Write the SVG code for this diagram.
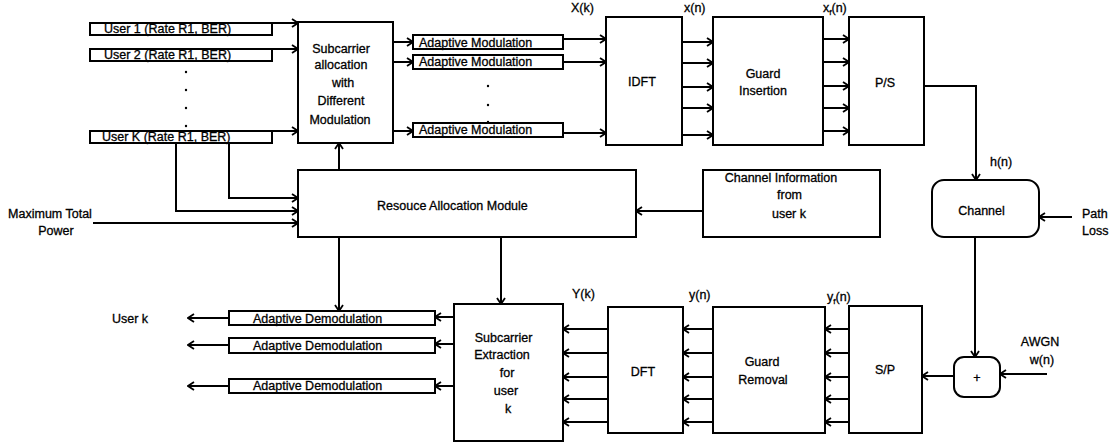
<svg xmlns="http://www.w3.org/2000/svg" width="1112" height="447" viewBox="0 0 1112 447">
<style>
.b{fill:#fff;stroke:#000;stroke-width:2}
.t{font-family:"Liberation Sans",Arial,sans-serif;font-size:12.5px;fill:#000;stroke:#000;stroke-width:0.3}
.m{text-anchor:middle}
.w{fill:none;stroke:#000;stroke-width:2;marker-end:url(#a)}
.d{fill:#000}
</style>
<defs>
<marker id="a" viewBox="0 0 8 10" markerWidth="8" markerHeight="10" refX="7" refY="5" orient="auto" markerUnits="userSpaceOnUse">
<path d="M1,1 L7,5 L1,9" fill="none" stroke="#000" stroke-width="1.8"/>
</marker>
</defs>
<rect width="1112" height="447" fill="#fff"/>
<g id="connectors">
<path class="w" d="M272,23 H298"/>
<path class="w" d="M272,49 H298"/>
<path class="w" d="M272,131 H298"/>
<path class="w" d="M393,42 H413"/>
<path class="w" d="M393,62 H413"/>
<path class="w" d="M393,131 H413"/>
<path class="w" d="M563,39 H606"/>
<path class="w" d="M563,62 H606"/>
<path class="w" d="M563,133 H606"/>
<path class="w" d="M682,42 H713"/>
<path class="w" d="M682,63 H713"/>
<path class="w" d="M682,87 H713"/>
<path class="w" d="M682,108 H713"/>
<path class="w" d="M682,135 H713"/>
<path class="w" d="M823,39 H849"/>
<path class="w" d="M823,62 H849"/>
<path class="w" d="M823,86 H849"/>
<path class="w" d="M823,108 H849"/>
<path class="w" d="M823,131 H849"/>
<path class="w" d="M924,86 H976 V180"/>
<path class="w" d="M1072,217 H1039"/>
<path class="w" d="M975,237 V357"/>
<path class="w" d="M1047,374 H1000"/>
<path class="w" d="M954,376 H922"/>
<path class="w" d="M849,329 H825"/>
<path class="w" d="M849,353 H825"/>
<path class="w" d="M849,377 H825"/>
<path class="w" d="M849,399 H825"/>
<path class="w" d="M849,422 H825"/>
<path class="w" d="M713,329 H683"/>
<path class="w" d="M713,353 H683"/>
<path class="w" d="M713,377 H683"/>
<path class="w" d="M713,399 H683"/>
<path class="w" d="M713,422 H683"/>
<path class="w" d="M608,329 H563"/>
<path class="w" d="M608,353 H563"/>
<path class="w" d="M608,377 H563"/>
<path class="w" d="M608,399 H563"/>
<path class="w" d="M608,422 H563"/>
<path class="w" d="M454,317 H435"/>
<path class="w" d="M454,344 H435"/>
<path class="w" d="M454,386 H435"/>
<path class="w" d="M229,318 H188"/>
<path class="w" d="M229,345 H188"/>
<path class="w" d="M229,386 H188"/>
<path class="w" d="M339,170 V143"/>
<path class="w" d="M339,237 V311"/>
<path class="w" d="M501,237 V304"/>
<path class="w" d="M703,211 H636"/>
<path class="w" d="M229,143 V198 H298"/>
<path class="w" d="M176,143 V211 H298"/>
<path class="w" d="M93,223 H298"/>
</g>
<g id="user1"><rect class="b" x="90" y="23" width="182" height="12"/><text class="t" x="104" y="33">User 1 (Rate R1, BER)</text></g>
<g id="user2"><rect class="b" x="90" y="49" width="182" height="12"/><text class="t" x="104" y="59">User 2 (Rate R1, BER)</text></g>
<g id="userdots"><circle class="d" cx="186" cy="72" r="1.2"/><circle class="d" cx="186" cy="90" r="1.2"/><circle class="d" cx="186" cy="108" r="1.2"/><circle class="d" cx="186" cy="126" r="1.2"/></g>
<g id="userK"><rect class="b" x="90" y="131" width="182" height="12"/><text class="t" x="102" y="141">User K (Rate R1, BER)</text></g>
<g id="suballoc"><rect class="b" x="298" y="22" width="95" height="121"/>
<text class="t m" x="341" y="53" font-size="13">Subcarrier</text>
<text class="t m" x="341" y="69" font-size="13">allocation</text>
<text class="t m" x="343" y="87" font-size="13">with</text>
<text class="t m" x="341" y="105" font-size="13">Different</text>
<text class="t m" x="340" y="124" font-size="13">Modulation</text></g>
<g id="am1"><rect class="b" x="413" y="35" width="150" height="14"/><text class="t" x="419" y="46.5">Adaptive Modulation</text></g>
<g id="am2"><rect class="b" x="413" y="55" width="150" height="14"/><text class="t" x="419" y="66">Adaptive Modulation</text></g>
<g id="amdots"><circle class="d" cx="488" cy="86" r="1.2"/><circle class="d" cx="488" cy="105" r="1.2"/><circle class="d" cx="488" cy="122" r="1.2"/></g>
<g id="am3"><rect class="b" x="413" y="123" width="150" height="14"/><text class="t" x="419" y="134">Adaptive Modulation</text></g>
<g id="idft"><rect class="b" x="606" y="17" width="76" height="128"/><text class="t m" x="642" y="86">IDFT</text></g>
<g id="guardins"><rect class="b" x="713" y="17" width="110" height="128"/><text class="t m" x="763" y="77.5">Guard</text><text class="t m" x="763" y="95">Insertion</text></g>
<g id="ps"><rect class="b" x="849" y="17" width="75" height="128"/><text class="t m" x="885" y="87">P/S</text></g>
<g id="labels-top">
<text class="t" x="571" y="12">X(k)</text>
<text class="t" x="684" y="12">x(n)</text>
<text class="t" x="823" y="12">x<tspan font-size="8" dy="3">f</tspan><tspan dy="-3">(n)</tspan></text>
<text class="t" x="990" y="166">h(n)</text>
</g>
<g id="resource"><rect class="b" x="298" y="170" width="338" height="67"/><text class="t" x="377" y="210" font-size="14.5">Resouce Allocation Module</text></g>
<g id="chinfo"><rect class="b" x="703" y="170" width="177" height="67"/>
<text class="t m" x="781" y="182">Channel Information</text>
<text class="t m" x="789.5" y="199">from</text>
<text class="t m" x="789" y="218">user k</text></g>
<g id="maxpower"><text class="t m" x="50" y="218">Maximum Total</text><text class="t m" x="56" y="235">Power</text></g>
<g id="channel"><rect class="b" x="932" y="180" width="107" height="57" rx="12"/><text class="t m" x="981.5" y="215">Channel</text></g>
<g id="pathloss"><text class="t" x="1082" y="218">Path</text><text class="t" x="1082" y="235">Loss</text></g>
<g id="plus"><rect class="b" x="954" y="357" width="46" height="40" rx="10"/><text class="t m" x="977" y="382">+</text></g>
<g id="awgn"><text class="t m" x="1040" y="346">AWGN</text><text class="t m" x="1042" y="364">w(n)</text></g>
<g id="sp"><rect class="b" x="849" y="306" width="73" height="127"/><text class="t m" x="885" y="374">S/P</text></g>
<g id="guardrem"><rect class="b" x="713" y="307" width="112" height="126"/><text class="t m" x="762" y="366">Guard</text><text class="t m" x="763" y="384">Removal</text></g>
<g id="dft"><rect class="b" x="608" y="307" width="75" height="126"/><text class="t m" x="643" y="376">DFT</text></g>
<g id="subext"><rect class="b" x="454" y="304" width="109" height="137"/>
<text class="t m" x="503.5" y="342">Subcarrier</text>
<text class="t m" x="502" y="359">Extraction</text>
<text class="t m" x="507" y="377">for</text>
<text class="t m" x="506" y="395">user</text>
<text class="t m" x="508" y="413">k</text></g>
<g id="labels-bottom">
<text class="t" x="572" y="298">Y(k)</text>
<text class="t" x="689" y="299">y(n)</text>
<text class="t" x="827" y="301">y<tspan font-size="8" dy="3">f</tspan><tspan dy="-3">(n)</tspan></text>
</g>
<g id="ad1"><rect class="b" x="229" y="311" width="206" height="14"/><text class="t" x="253" y="323">Adaptive Demodulation</text></g>
<g id="ad2"><rect class="b" x="229" y="338" width="206" height="15"/><text class="t" x="253" y="350">Adaptive Demodulation</text></g>
<g id="ad3"><rect class="b" x="229" y="379" width="206" height="14"/><text class="t" x="253" y="390">Adaptive Demodulation</text></g>
<g id="userk-out"><text class="t" x="112" y="323">User k</text></g>
</svg>
